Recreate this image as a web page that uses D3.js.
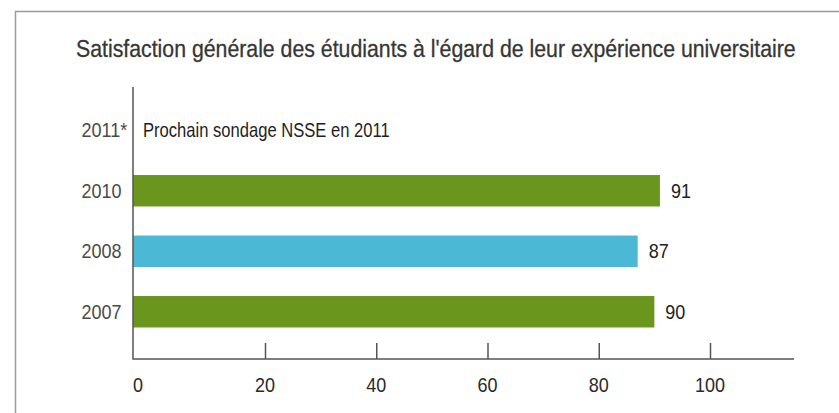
<!DOCTYPE html>
<html>
<head>
<meta charset="utf-8">
<script src="https://cdn.jsdelivr.net/npm/d3@7"></script>
<style>
  body { margin: 0; background: #fff; }
  svg text { font-family: "Liberation Sans", Arial, sans-serif; }
</style>
</head>
<body>
<div id="chart"></div>
<script>
// Données
const annees = ['2011*', '2010', '2008', '2007'];
const valeurs = [null, 91, 87, 90];
const couleurs = [null, '#6b961e', '#4bb8d6', '#6b961e'];
const ticksX = [0, 20, 40, 60, 80, 100];
const titre = "Satisfaction générale des étudiants à l'égard de leur expérience universitaire";
const note = 'Prochain sondage NSSE en 2011';

const width = 839, height = 413;
const serre = 0.9; // police étroite : on compresse horizontalement

const svg = d3.select('#chart')
  .append('svg')
  .attr('width', width)
  .attr('height', height);

// Texte compressé pour atteindre une largeur donnée
function texteEtroit(parent, x, y, largeur, taille, couleur, contenu) {
  const g = parent.append('g');
  const t = g.append('text')
    .attr('dy', '0.36em')
    .style('font-size', taille + 'px')
    .style('fill', couleur)
    .text(contenu);
  const k = largeur / t.node().getComputedTextLength();
  g.attr('transform', `translate(${x},${y}) scale(${k},1)`);
  return t;
}

// Cadre (haut et gauche)
svg.append('path')
  .attr('d', `M15.5,${height} V11.5 H${width}`)
  .style('fill', 'none')
  .style('stroke', '#9a9a9a')
  .style('stroke-width', 1.5);

// Titre
texteEtroit(svg, 76, 48, 720, 24, '#363636', titre)
  .style('stroke', '#363636')
  .style('stroke-width', 0.3);

const x0 = 133, axeY = 359;

// Échelle x : l'origine du graphique d'origine est décalée par rapport aux graduations
const x = d3.scaleLinear()
  .domain([0, 20, 100])
  .range([x0, 265, 710]);

const y = d3.scaleBand()
  .domain(annees)
  .range([100, 342])
  .paddingInner(0.48)
  .paddingOuter(0.24);

const rows = annees.map((a, i) => ({ annee: a, valeur: valeurs[i], couleur: couleurs[i] }));
const avecValeur = rows.filter(d => d.valeur != null);

// Barres
svg.append('g')
  .selectAll('rect')
  .data(avecValeur)
  .enter().append('rect')
  .attr('x', x0)
  .attr('y', d => y(d.annee))
  .attr('width', d => x(d.valeur) - x0)
  .attr('height', y.bandwidth())
  .style('fill', d => d.couleur);

// Étiquettes de valeurs
svg.append('g')
  .attr('transform', `scale(${serre},1)`)
  .selectAll('text')
  .data(avecValeur)
  .enter().append('text')
  .attr('x', d => (x(d.valeur) + 11) / serre)
  .attr('y', d => y(d.annee) + y.bandwidth() / 2)
  .attr('dy', '0.36em')
  .style('font-size', '20px')
  .style('fill', '#222')
  .text(d => d.valeur);

// Note pour 2011
texteEtroit(svg, 143, y('2011*') + y.bandwidth() / 2, 247, 20, '#1e1e1e', note);

// Étiquettes de l'axe y
svg.append('g')
  .attr('transform', `scale(${serre},1)`)
  .selectAll('text')
  .data(annees)
  .enter().append('text')
  .attr('x', 81.5 / serre)
  .attr('y', d => y(d) + y.bandwidth() / 2)
  .attr('dy', '0.36em')
  .style('font-size', '20px')
  .style('fill', '#4a4a4a')
  .text(d => d);

// Graduations de l'axe x
const axeX = svg.append('g')
  .attr('transform', `translate(0,${axeY})`)
  .call(d3.axisTop(x).tickValues(ticksX.slice(1)).tickSize(16).tickFormat(''));

axeX.select('.domain').remove();
axeX.selectAll('.tick line')
  .style('stroke', '#555')
  .style('stroke-width', 1.5);

svg.append('g')
  .attr('transform', `scale(${serre},1)`)
  .selectAll('text')
  .data(ticksX)
  .enter().append('text')
  .attr('x', d => x(d) / serre)
  .attr('y', 392)
  .attr('text-anchor', d => d === 0 ? 'start' : 'middle')
  .style('font-size', '20px')
  .style('fill', '#2a2a2a')
  .text(d => d);

// Lignes des axes
svg.append('path')
  .attr('d', `M${x0},87 V${axeY} H794`)
  .style('fill', 'none')
  .style('stroke', '#555')
  .style('stroke-width', 1.5);
</script>
</body>
</html>
